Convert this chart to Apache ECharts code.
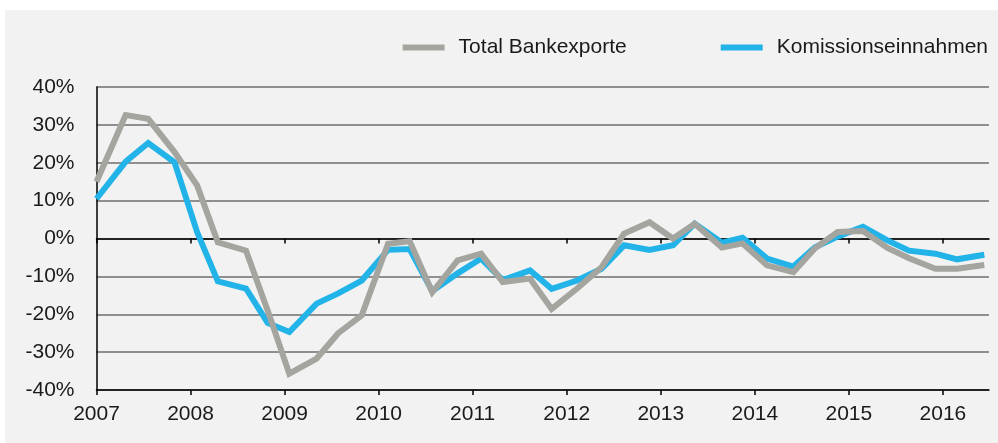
<!DOCTYPE html>
<html>
<head>
<meta charset="utf-8">
<script src="https://cdn.jsdelivr.net/npm/echarts@6/dist/echarts.min.js"></script>
<style>
  html, body { margin: 0; padding: 0; background: #fff; }
  #chart { position: absolute; left: 5px; top: 10px; width: 993px; height: 433px; background: #f2f2f2; }
</style>
</head>
<body>
<div id="chart"></div>
<script>
// Zeitpunkte (Dezimaljahre)
var dates = [2007.0, 2007.31, 2007.55, 2007.83, 2008.07, 2008.29, 2008.59, 2008.82, 2009.05, 2009.34,
  2009.57, 2009.82, 2010.10, 2010.33, 2010.57, 2010.84, 2011.09, 2011.32, 2011.61, 2011.84,
  2012.11, 2012.37, 2012.61, 2012.88, 2013.13, 2013.36, 2013.65, 2013.87, 2014.13, 2014.41,
  2014.64, 2014.88, 2015.15, 2015.41, 2015.64, 2015.92, 2016.15, 2016.44];
// Veraenderung in %
var totalBankexporte = [15, 32.6, 31.6, 22.8, 14, -1, -3.2, -19, -35.7, -31.7,
  -25, -20.3, -1.4, -0.7, -14.2, -5.8, -4, -11.5, -10.6, -18.6,
  -13.2, -7.6, 1.3, 4.3, 0, 3.9, -2.4, -1.3, -7.1, -8.9,
  -2.6, 1.7, 2.0, -2.5, -5.2, -8.0, -8.0, -7.0];
var komissionseinnahmen = [10.5, 20.3, 25.2, 20.1, 1.7, -11.3, -13.2, -22.3, -24.7, -17.2,
  -14.5, -11.1, -3, -2.8, -13.9, -9.2, -5.3, -11, -8.4, -13.3,
  -11.1, -8, -1.8, -3, -1.8, 3.9, -1.1, 0.2, -5.3, -7.4,
  -2.3, 0.5, 3.1, -0.5, -3.2, -4.0, -5.5, -4.3];
var years = [2007, 2008, 2009, 2010, 2011, 2012, 2013, 2014, 2015, 2016];

function pairs(xs, ys) {
  var out = [];
  for (var i = 0; i < xs.length; i++) out.push([xs[i], ys[i]]);
  return out;
}

var font = 'Liberation Sans, Arial, Helvetica, sans-serif';
var chart = echarts.init(document.getElementById('chart'));
chart.setOption({
  animation: false,
  backgroundColor: '#f2f2f2',
  legend: {
    data: ['Total Bankexporte', 'Komissionseinnahmen'],
    right: 10,
    top: 27,
    padding: 0,
    icon: 'rect',
    itemWidth: 42,
    itemHeight: 6,
    itemGap: 94,
    textStyle: { fontFamily: font, fontSize: 21, color: '#1a1a1a', padding: [0, 0, 0, 9] }
  },
  grid: { left: 91.5, right: 9, top: 77, bottom: 53 },
  xAxis: [{
    type: 'value',
    min: 2007,
    max: 2016.49,
    interval: 1,
    position: 'bottom',
    axisLine: { onZero: false, lineStyle: { color: '#000', width: 1.5 } },
    axisTick: { length: 5, customValues: years, lineStyle: { color: '#000', width: 1.5 } },
    axisLabel: {
      customValues: years, margin: 14, fontFamily: font, fontSize: 21, color: '#1a1a1a',
      formatter: function (v) { return String(v); }
    },
    splitLine: { show: false }
  }, {
    type: 'value',
    min: 2007,
    max: 2016.49,
    interval: 1,
    position: 'top',
    axisLine: { onZero: true, lineStyle: { color: '#000', width: 1.5 } },
    axisTick: { inside: true, length: 5, customValues: years, lineStyle: { color: '#000', width: 1.5 } },
    axisLabel: { show: false },
    splitLine: { show: false }
  }],
  yAxis: {
    type: 'value',
    min: -40,
    max: 40,
    interval: 10,
    axisLine: { show: true, lineStyle: { color: '#000', width: 1.5 } },
    axisTick: { show: false },
    axisLabel: { margin: 22, fontFamily: font, fontSize: 21, color: '#1a1a1a', formatter: '{value}%' },
    splitLine: { lineStyle: { color: '#6e6e6e', width: 1.5 } }
  },
  series: [{
    name: 'Komissionseinnahmen',
    type: 'line',
    data: pairs(dates, komissionseinnahmen),
    showSymbol: false,
    color: '#22b3e8',
    lineStyle: { width: 6, join: 'miter' }
  }, {
    name: 'Total Bankexporte',
    type: 'line',
    data: pairs(dates, totalBankexporte),
    showSymbol: false,
    color: '#a5a5a0',
    lineStyle: { width: 6, join: 'miter' }
  }]
});
</script>
</body>
</html>
